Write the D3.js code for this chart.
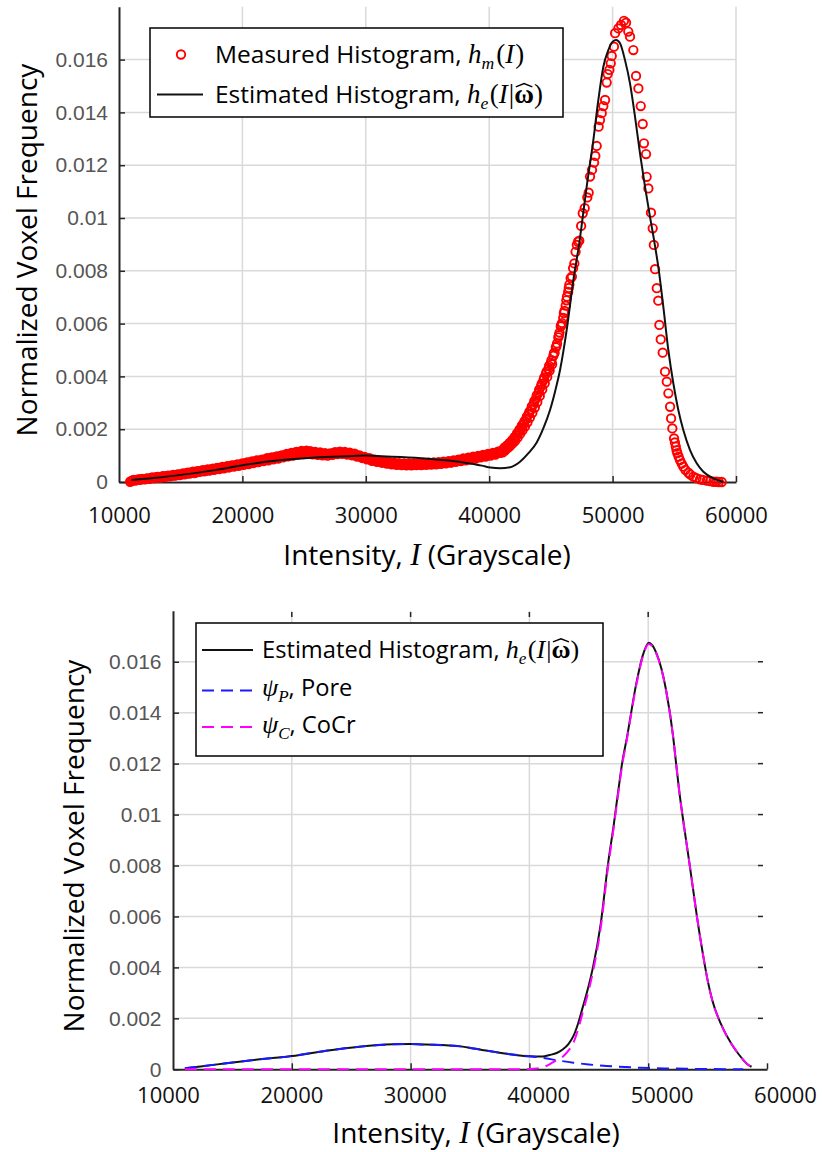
<!DOCTYPE html>
<html>
<head>
<meta charset="utf-8">
<script src="https://cdn.jsdelivr.net/npm/d3@7"></script>
<style>
  body { margin: 0; background: #fff; }
  svg { display: block; }
</style>
</head>
<body>
<svg id="fig" width="822" height="1152"></svg>
<script>
// ---- data -------------------------------------------------------------
const xTicks = [10000, 20000, 30000, 40000, 50000, 60000];
const xTickLabels = ["10000", "20000", "30000", "40000", "50000", "60000"];
const yTicks = [0, 0.002, 0.004, 0.006, 0.008, 0.010, 0.012, 0.014, 0.016];
const yTickLabels = ["0", "0.002", "0.004", "0.006", "0.008", "0.01", "0.012", "0.014", "0.016"];

// measured voxel histogram h_m(I): [intensity, normalized frequency]
const measuredHistogram = [
  [10900,0.00001],[11100,0.00006],[11300,0.00005],[11500,0.00009],[11700,0.00008],[11900,0.00012],
  [12100,0.00010],[12300,0.00014],[12500,0.00013],[12700,0.00017],[12900,0.00015],[13100,0.00019],
  [13300,0.00017],[13500,0.00021],[13700,0.00019],[13900,0.00023],[14100,0.00021],[14300,0.00025],
  [14500,0.00024],[14700,0.00028],[14900,0.00026],[15100,0.00031],[15300,0.00029],[15500,0.00034],
  [15700,0.00032],[15900,0.00037],[16100,0.00034],[16300,0.00040],[16500,0.00038],[16700,0.00043],
  [16900,0.00040],[17100,0.00046],[17300,0.00043],[17500,0.00049],[17700,0.00046],[17900,0.00052],
  [18100,0.00049],[18300,0.00055],[18500,0.00052],[18700,0.00058],[18900,0.00055],[19100,0.00062],
  [19300,0.00058],[19500,0.00065],[19700,0.00061],[19900,0.00068],[20100,0.00065],[20300,0.00072],
  [20500,0.00068],[20700,0.00076],[20900,0.00072],[21100,0.00080],[21300,0.00075],[21500,0.00083],
  [21700,0.00079],[21900,0.00087],[22100,0.00082],[22300,0.00091],[22500,0.00086],[22700,0.00095],
  [22900,0.00089],[23100,0.00099],[23300,0.00093],[23500,0.00104],[23700,0.00097],[23900,0.00108],
  [24100,0.00100],[24300,0.00112],[24500,0.00104],[24700,0.00115],[24900,0.00106],[25100,0.00116],
  [25300,0.00108],[25500,0.00117],[25700,0.00105],[25900,0.00114],[26100,0.00103],[26300,0.00112],
  [26500,0.00101],[26700,0.00109],[26900,0.00100],[27100,0.00108],[27300,0.00103],[27500,0.00113],
  [27700,0.00106],[27900,0.00115],[28100,0.00107],[28300,0.00114],[28500,0.00104],[28700,0.00111],
  [28900,0.00101],[29100,0.00107],[29300,0.00096],[29500,0.00101],[29700,0.00091],[29900,0.00095],
  [30100,0.00086],[30300,0.00090],[30500,0.00080],[30700,0.00085],[30900,0.00076],[31100,0.00081],
  [31300,0.00073],[31500,0.00078],[31700,0.00070],[31900,0.00075],[32100,0.00067],[32300,0.00073],
  [32500,0.00065],[32700,0.00071],[32900,0.00064],[33100,0.00070],[33300,0.00063],[33500,0.00070],
  [33700,0.00063],[33900,0.00070],[34100,0.00064],[34300,0.00071],[34500,0.00064],[34700,0.00072],
  [34900,0.00065],[35100,0.00073],[35300,0.00066],[35500,0.00074],[35700,0.00067],[35900,0.00075],
  [36100,0.00069],[36300,0.00077],[36500,0.00071],[36700,0.00079],[36900,0.00073],[37100,0.00082],
  [37300,0.00076],[37500,0.00085],[37700,0.00079],[37900,0.00089],[38100,0.00082],[38300,0.00092],
  [38500,0.00086],[38700,0.00096],[38900,0.00089],[39100,0.00099],[39300,0.00093],[39500,0.00103],
  [39700,0.00096],[39900,0.00106],[40100,0.00100],[40300,0.00110],[40500,0.00104],[40700,0.00115],
  [40900,0.00110],
  [11000,0.00003],[11200,0.00008],[11400,0.00007],[11600,0.00010],[11800,0.00011],[12000,0.00011],
  [12200,0.00013],[12400,0.00012],[12600,0.00016],[12800,0.00015],[13000,0.00018],[13200,0.00019],
  [13400,0.00018],[13600,0.00022],[13800,0.00021],[14000,0.00024],[14200,0.00023],[14400,0.00027],
  [14600,0.00025],[14800,0.00029],[15000,0.00028],[15200,0.00033],[15400,0.00031],[15600,0.00035],
  [15800,0.00034],[16000,0.00039],[16200,0.00036],[16400,0.00041],[16600,0.00040],[16800,0.00045],
  [17000,0.00042],[17200,0.00048],[17400,0.00045],[17600,0.00051],[17800,0.00049],[18000,0.00053],
  [18200,0.00052],[18400,0.00057],[18600,0.00055],[18800,0.00060],[19000,0.00059],[19200,0.00063],
  [19400,0.00062],[19600,0.00067],[19800,0.00065],[20000,0.00070],[20200,0.00069],[20400,0.00074],
  [20600,0.00072],[20800,0.00078],[21000,0.00076],[21200,0.00082],[21400,0.00080],[21600,0.00085],
  [21800,0.00084],[22000,0.00090],[22200,0.00087],[22400,0.00093],[22600,0.00091],[22800,0.00097],
  [23000,0.00095],[23200,0.00101],[23400,0.00099],[23600,0.00106],[23800,0.00102],[24000,0.00110],
  [24200,0.00106],[24400,0.00114],[24600,0.00110],[24800,0.00118],[25000,0.00111],[25200,0.00119],
  [25400,0.00112],[25600,0.00113],[25800,0.00109],[26000,0.00110],[26200,0.00107],[26400,0.00106],
  [26600,0.00105],[26800,0.00104],[27000,0.00104],[27200,0.00106],[27400,0.00109],[27600,0.00110],
  [27800,0.00112],[28000,0.00111],[28200,0.00110],[28400,0.00109],[28600,0.00107],[28800,0.00106],
  [29000,0.00104],[29200,0.00101],[29400,0.00099],[29600,0.00095],[29800,0.00093],[30000,0.00090],
  [30200,0.00088],[30400,0.00085],[30600,0.00083],[30800,0.00080],[31000,0.00078],[31200,0.00077],
  [31400,0.00075],[31600,0.00074],[31800,0.00072],[32000,0.00071],[32200,0.00070],[32400,0.00068],
  [32600,0.00068],[32800,0.00067],[33000,0.00066],[33200,0.00066],[33400,0.00066],[33600,0.00067],
  [33800,0.00066],[34000,0.00067],[34200,0.00067],[34400,0.00068],[34600,0.00068],[34800,0.00069],
  [35000,0.00069],[35200,0.00070],[35400,0.00070],[35600,0.00071],[35800,0.00071],[36000,0.00072],
  [36200,0.00073],[36400,0.00074],[36600,0.00075],[36800,0.00076],[37000,0.00077],[37200,0.00079],
  [37400,0.00081],[37600,0.00082],[37800,0.00084],[38000,0.00086],[38200,0.00087],[38400,0.00089],
  [38600,0.00091],[38800,0.00093],[39000,0.00095],[39200,0.00096],[39400,0.00098],[39600,0.00100],
  [39800,0.00101],[40000,0.00103],[40200,0.00105],[40400,0.00107],[40600,0.00110],[40800,0.00112],
  [41000,0.00118],[41100,0.00112],[41200,0.00126],[41300,0.00120],[41400,0.00134],
  [41500,0.00128],[41600,0.00143],[41700,0.00137],[41800,0.00152],[41900,0.00146],[42000,0.00163],
  [42100,0.00156],[42200,0.00176],[42300,0.00168],[42400,0.00190],[42500,0.00182],[42600,0.00205],
  [42700,0.00196],[42800,0.00220],[42900,0.00210],[43000,0.00238],[43100,0.00226],[43200,0.00256],
  [43300,0.00244],[43400,0.00274],[43500,0.00262],[43600,0.00294],[43700,0.00282],[43800,0.00316],
  [43900,0.00303],[44000,0.00338],[44100,0.00326],[44200,0.00362],[44300,0.00350],[44400,0.00386],
  [44500,0.00374],[44600,0.00410],[44700,0.00398],[44800,0.00428],[44900,0.00422],[45000,0.00452],
  [45100,0.00446],[45200,0.00478],[45300,0.00490],[45400,0.00510],[45500,0.00525],[45600,0.00548],
  [45700,0.00566],[45800,0.00590],[45900,0.00602],[46000,0.00622],[46100,0.00648],[46200,0.00668],
  [46300,0.00702],[46400,0.00720],[46500,0.00748],[46600,0.00772],[46700,0.00778],[46800,0.00810],
  [41050,0.00121],[41250,0.00131],[41450,0.00139],[41650,0.00148],[41850,0.00158],[42050,0.00170],
  [42250,0.00184],[42450,0.00198],[42650,0.00214],[42850,0.00230],[43050,0.00248],[43250,0.00266],
  [43450,0.00286],[43650,0.00306],[43850,0.00328],[44050,0.00350],[44250,0.00372],[44450,0.00395],
  [44650,0.00418],[44850,0.00440],[45050,0.00462],[45250,0.00488],[45450,0.00515],[45650,0.00556],
  [45850,0.00595],[46050,0.00640],[46250,0.00688],[46450,0.00735],
  [46900,0.00828],[47000,0.00872],[47100,0.00898],[47200,0.00910],[47300,0.00914],[47450,0.00970],
  [47580,0.01018],[47740,0.01037],[47950,0.01078],[48060,0.01096],[48170,0.01157],[48330,0.01182],
  [48500,0.01210],[48600,0.01235],[48710,0.01273],[48870,0.01346],[48980,0.01371],[49120,0.01397],
  [49250,0.01424],[49390,0.01447],[49520,0.01513],[49600,0.01545],[49740,0.01561],[49850,0.01586],
  [49930,0.01614],[50110,0.01649],[50200,0.01700],[50470,0.01718],[50680,0.01731],[50920,0.01747],
  [51090,0.01740],[51270,0.01706],[51410,0.01687],[51680,0.01636],[51900,0.01538],[52090,0.01491],
  [52280,0.01424],[52440,0.01356],[52540,0.01283],[52710,0.01242],[52760,0.01156],[52900,0.01112],
  [53110,0.01020],[53250,0.00961],[53340,0.00898],[53440,0.00806],[53580,0.00734],[53700,0.00687],
  [53790,0.00595],[53900,0.00540],[54060,0.00490],[54250,0.00418],[54390,0.00380],[54520,0.00336],
  [54660,0.00285],[54740,0.00241],[54840,0.00203],[54980,0.00165],[55050,0.00150],[55120,0.00134],
  [55180,0.00120],[55250,0.00109],[55350,0.00096],[55460,0.00083],[55600,0.00070],[55730,0.00058],
  [55900,0.00046],[56140,0.00035],[56300,0.00028],[56540,0.00020],[56800,0.00015],[57080,0.00010],
  [57300,0.00008],[57630,0.00005],[57900,0.00003],[58170,0.00001],[58400,0.00001],[58600,0.00000],
  [58840,0.00000]
];

// fitted histogram h_e(I|w) as plotted in the upper panel
const estimatedUpper = [
  [11000,0.00008],[13000,0.00016],[15000,0.00027],[17800,0.00045],[20500,0.00067],[23200,0.00083],
  [25900,0.00093],[28600,0.00098],[29900,0.00100],[31300,0.00098],[34000,0.00092],[36700,0.00081],
  [38400,0.00070],[39400,0.00062],[40100,0.00055],[40900,0.00052],[41700,0.00056],[42500,0.00077],
  [43200,0.00110],[43850,0.00150],[44400,0.00205],[44930,0.00273],[45350,0.00345],[45740,0.00424],
  [46280,0.00576],[46820,0.00765],[47300,0.00905],[47900,0.01119],[48440,0.01295],[48845,0.01447],
  [49250,0.01573],[49655,0.01636],[50010,0.01668],[50280,0.01674],[50600,0.01662],[51005,0.01598],
  [51410,0.01510],[51816,0.01384],[52220,0.01245],[52625,0.01119],[53030,0.01005],[53400,0.00905],
  [53750,0.00800],[54110,0.00664],[54515,0.00500],[54920,0.00374],[55325,0.00273],[55730,0.00197],
  [56275,0.00121],[56815,0.00071],[57355,0.00039],[58165,0.00014],[58975,0.00001]
];

// fitted histogram and its two components in the lower panel
const estimatedLower = [
  [11000,0.00004],[12500,0.00012],[14500,0.00024],[17300,0.00039],[20000,0.00052],[22900,0.00073],
  [25700,0.00089],[28500,0.00098],[30000,0.00099],[31300,0.00097],[34200,0.00090],[35300,0.00082],
  [38100,0.00061],[40000,0.00051],[41100,0.00050],[41700,0.00056],[42300,0.00064],[42800,0.00078],
  [43300,0.00100],[43700,0.00130],[44100,0.00180],[44500,0.00245],[45000,0.00330],[45350,0.00400],
  [46000,0.00570],[46600,0.00800],[47100,0.00960],[47500,0.01100],[47800,0.01200],[48200,0.01300],
  [49000,0.01515],[49550,0.01626],[50050,0.01675],[50700,0.01633],[51500,0.01490],[52100,0.01306],
  [52350,0.01200],[52600,0.01097],[53000,0.00960],[53500,0.00800],[54100,0.00600],[54800,0.00400],
  [55000,0.00350],[55400,0.00270],[56100,0.00180],[57000,0.00100],[57600,0.00060],[58000,0.00037],
  [58350,0.00020],[58700,0.00010]
];
const poreComponent = [
  [11000,0.00004],[12500,0.00012],[14500,0.00024],[17300,0.00039],[20000,0.00052],[22900,0.00073],
  [25700,0.00089],[28500,0.00098],[30000,0.00099],[31300,0.00097],[34200,0.00090],[35300,0.00082],
  [38100,0.00061],[40000,0.00051],[41100,0.00045],[42500,0.00034],[43700,0.00026],[45000,0.00019],
  [46500,0.00013],[48000,0.00009],[49300,0.00006],[52100,0.00003],[54900,0.00001],[58000,0.00000]
];
const cocrComponent = [
  [11000,0.00000],[20000,0.00000],[30000,0.00000],[39000,0.00000],[40000,0.00001],[40600,0.00003],
  [41200,0.00008],[41600,0.00017],[42000,0.00028],[42400,0.00038],[42800,0.00049],[43300,0.00074],
  [43700,0.00104],[44100,0.00157],[44500,0.00225],[45000,0.00311],[45350,0.00383],[46000,0.00555],
  [46600,0.00787],[47100,0.00950],[47500,0.01091],[47800,0.01192],[48200,0.01293],[49000,0.01509],
  [49550,0.01621],[50050,0.01670],[50700,0.01630],[51500,0.01488],[52100,0.01304],[52350,0.01199],
  [52600,0.01096],[53000,0.00959],[53500,0.00800],[54100,0.00600],[54800,0.00400],[55000,0.00350],
  [55400,0.00270],[56100,0.00180],[57000,0.00100],[57600,0.00060],[58000,0.00037],[58350,0.00020],
  [58700,0.00010]
];

// ---- styling ------------------------------------------------------------
const SANS = "'Open Sans', 'Noto Sans', sans-serif";
const TICKFONT = "'Liberation Sans', Arial, sans-serif";
const MATH = "'Liberation Serif', 'DejaVu Serif', serif";
const AXIS = "#262626";
const GRID = "#d9d9d9";

const svg = d3.select("#fig");

// text made of plain and math runs (italic serif, subscripts, hats)
function richText(sel, x, y, parts, size, anchor) {
  const t = sel.append("text").attr("x", x).attr("y", y)
    .attr("font-size", size).attr("font-family", SANS).attr("fill", "#000");
  if (anchor) t.attr("text-anchor", anchor);
  let shift = 0, idx = 0;
  const hats = [];
  parts.forEach(p => {
    const s = t.append("tspan").text(p.t);
    const fs = p.math ? (p.sub ? size * 0.72 : size * 1.1) : size;
    if (p.math) s.attr("font-family", MATH).attr("font-size", fs);
    if (p.italic) s.attr("font-style", "italic");
    if (p.bold) s.attr("font-weight", "bold");
    if (p.dx) s.attr("dx", p.dx);
    const target = p.sub ? size * 0.26 : 0;
    if (target !== shift) { s.attr("dy", target - shift); shift = target; }
    if (p.hat) hats.push({ idx, fs });
    idx += p.t.length;
  });
  hats.forEach(h => {
    const e = t.node().getExtentOfChar(h.idx);
    const x0 = e.x + e.width * 0.08, x1 = e.x + e.width * 0.92, xm = (x0 + x1) / 2;
    sel.append("path")
      .attr("d", `M${x0},${y - h.fs * 0.6}L${xm},${y - h.fs * 0.72}L${x1},${y - h.fs * 0.6}`)
      .attr("fill", "none").attr("stroke", "#000").attr("stroke-width", 1.5);
  });
  return t;
}

function drawPanel(cfg) {
  const { x, y, xLabelScale } = cfg;
  const [x0] = x.range();
  const [yb, yt] = y.range();
  const g = svg.append("g");

  // grid
  g.append("g").selectAll("line").data(cfg.xGrid).join("line")
    .attr("x1", d => x(d)).attr("x2", d => x(d)).attr("y1", yb).attr("y2", yt)
    .attr("stroke", GRID).attr("stroke-width", 1.5);
  g.append("g").selectAll("line").data(yTicks.slice(1)).join("line")
    .attr("x1", x0).attr("x2", cfg.gridRight).attr("y1", d => y(d)).attr("y2", d => y(d))
    .attr("stroke", GRID).attr("stroke-width", 1.5);

  // left axis with inward ticks
  const ya = g.append("g").attr("transform", `translate(${x0},0)`)
    .call(d3.axisLeft(y).tickValues(yTicks).tickFormat((d, i) => yTickLabels[i])
      .tickSizeInner(-6).tickSizeOuter(0).tickPadding(cfg.yPad));
  ya.select(".domain").attr("stroke", AXIS).attr("stroke-width", 2);
  ya.selectAll(".tick line").attr("stroke", AXIS).attr("stroke-width", 1.5);
  ya.selectAll(".tick text").attr("font-family", TICKFONT).attr("font-size", 21).attr("fill", "#555");

  // bottom axis with inward ticks
  const xa = g.append("g").attr("transform", `translate(0,${yb})`)
    .call(d3.axisBottom(x).tickValues(xTicks.slice(1)).tickFormat("")
      .tickSizeInner(-6).tickSizeOuter(0));
  xa.select(".domain").attr("stroke", AXIS).attr("stroke-width", 2);
  xa.selectAll(".tick line").attr("stroke", AXIS).attr("stroke-width", 1.5);

  // bottom tick labels
  const xl = g.append("g").attr("transform", `translate(0,${yb})`)
    .call(d3.axisBottom(xLabelScale).tickValues(xTicks).tickFormat((d, i) => xTickLabels[i])
      .tickSize(0).tickPadding(cfg.xPad));
  xl.select(".domain").remove();
  xl.selectAll(".tick text").attr("font-family", SANS).attr("font-size", 22).attr("fill", "#111");

  // axis titles
  richText(g, cfg.xTitle[0], cfg.xTitle[1],
    [{ t: "Intensity, " }, { t: "I", math: true, italic: true }, { t: "  (Grayscale)" }], 28, "middle");
  g.append("text")
    .attr("transform", `translate(${cfg.yTitle[0]},${cfg.yTitle[1]}) rotate(-90)`)
    .attr("text-anchor", "middle").attr("font-family", SANS).attr("font-size", 28).attr("fill", "#000")
    .text("Normalized Voxel Frequency");
  return g;
}

const line = (x, y) => d3.line().x(d => x(d[0])).y(d => y(d[1])).curve(d3.curveMonotoneX);

const hePartsText = [
  { t: "Estimated Histogram, " }, { t: "h", math: true, italic: true },
  { t: "e", math: true, italic: true, sub: true }, { t: "(", math: true, dx: 1.5 },
  { t: "I", math: true, italic: true }, { t: "|", math: true, dx: 1 },
  { t: "\u03C9", math: true, bold: true, hat: true }, { t: ")", math: true }];

// ---- upper panel: measured vs estimated ----------------------------------
{
  const x = d3.scaleLinear().domain([10000, 60000]).range([119, 736]);
  const y = d3.scaleLinear().domain([0, 0.018]).range([482, 6.8]);
  const g = drawPanel({
    x, y, xLabelScale: x, xGrid: xTicks.slice(1), gridRight: 736,
    yPad: 11, xPad: 25.5, xTitle: [427, 565], yTitle: [37, 250]
  });

  g.append("g").selectAll("circle").data(measuredHistogram).join("circle")
    .attr("cx", d => x(d[0])).attr("cy", d => y(d[1])).attr("r", 4.2)
    .attr("fill", "none").attr("stroke", "#ff0000").attr("stroke-width", 1.9);

  g.append("path").datum(estimatedUpper).attr("d", line(x, y))
    .attr("fill", "none").attr("stroke", "#111").attr("stroke-width", 2);

  // legend
  const lg = g.append("g");
  lg.append("rect").attr("x", 150).attr("y", 28).attr("width", 413).attr("height", 89)
    .attr("fill", "#fff").attr("stroke", "#000").attr("stroke-width", 1.5);
  lg.append("circle").attr("cx", 181).attr("cy", 54.5).attr("r", 4.2)
    .attr("fill", "none").attr("stroke", "#ff0000").attr("stroke-width", 1.9);
  lg.append("line").attr("x1", 157).attr("x2", 203).attr("y1", 94.5).attr("y2", 94.5)
    .attr("stroke", "#111").attr("stroke-width", 2);
  richText(lg, 215, 62.5, [
    { t: "Measured Histogram, " }, { t: "h", math: true, italic: true },
    { t: "m", math: true, italic: true, sub: true }, { t: "(", math: true, dx: 2 },
    { t: "I", math: true, italic: true }, { t: ")", math: true, dx: 1 }], 24.5);
  richText(lg, 215, 103, hePartsText, 24.5);
}

// ---- lower panel: estimated histogram and its components ----------------
{
  const x = d3.scaleLinear().domain([10000, 60000]).range([173, 767]);
  const xLabels = d3.scaleLinear().domain([10000, 60000]).range([168, 785]);
  const y = d3.scaleLinear().domain([0, 0.018]).range([1069.3, 610.8]);
  const g = drawPanel({
    x, y, xLabelScale: xLabels, xGrid: xTicks.slice(1, 5), gridRight: 760,
    yPad: 11.5, xPad: 18.5, xTitle: [476, 1143], yTitle: [84, 846]
  });

  // tick marks on the top and right edges of the box
  g.append("g").selectAll("line").data(xTicks.slice(1, 5)).join("line")
    .attr("x1", d => x(d)).attr("x2", d => x(d)).attr("y1", 612).attr("y2", 617)
    .attr("stroke", AXIS).attr("stroke-width", 1.5);
  g.append("g").selectAll("line").data(yTicks.slice(1)).join("line")
    .attr("x1", 758).attr("x2", 763).attr("y1", d => y(d)).attr("y2", d => y(d))
    .attr("stroke", AXIS).attr("stroke-width", 1.5);

  g.append("path").datum(estimatedLower).attr("d", line(x, y))
    .attr("fill", "none").attr("stroke", "#111").attr("stroke-width", 2);
  g.append("path").datum(poreComponent).attr("d", line(x, y))
    .attr("fill", "none").attr("stroke", "#1a1aff").attr("stroke-width", 2)
    .attr("stroke-dasharray", "12,7");
  g.append("path").datum(cocrComponent).attr("d", line(x, y))
    .attr("fill", "none").attr("stroke", "#ff00ff").attr("stroke-width", 2)
    .attr("stroke-dasharray", "12,7");

  // legend
  const lg = g.append("g");
  lg.append("rect").attr("x", 196).attr("y", 623).attr("width", 407).attr("height", 133)
    .attr("fill", "#fff").attr("stroke", "#000").attr("stroke-width", 1.5);
  const rows = [
    { y: 650, base: 657.5, color: "#111", dash: null, parts: hePartsText },
    { y: 690.5, base: 695.5, color: "#1a1aff", dash: "12,7", parts: [
      { t: "\u03C8", math: true, italic: true }, { t: "P", math: true, italic: true, sub: true },
      { t: ", Pore" }] },
    { y: 727, base: 732.5, color: "#ff00ff", dash: "12,7", parts: [
      { t: "\u03C8", math: true, italic: true }, { t: "C", math: true, italic: true, sub: true },
      { t: ", CoCr" }] }
  ];
  rows.forEach(r => {
    const l = lg.append("line").attr("x1", 202).attr("x2", 253).attr("y1", r.y).attr("y2", r.y)
      .attr("stroke", r.color).attr("stroke-width", 2);
    if (r.dash) l.attr("stroke-dasharray", r.dash);
    richText(lg, 262, r.base, r.parts, 23.7);
  });
}
</script>
</body>
</html>
